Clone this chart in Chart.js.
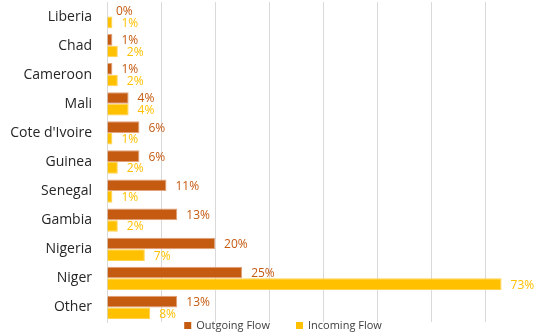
<!DOCTYPE html>
<html>
<head>
<meta charset="utf-8">
<script src="https://cdn.jsdelivr.net/npm/chart.js@4.4.0/dist/chart.umd.min.js"></script>
<style>
  html, body { margin: 0; padding: 0; background: #fff; }
  #wrap { width: 534px; height: 333px; }
</style>
</head>
<body>
<div id="wrap"><canvas id="flowChart"></canvas></div>
<script>
const countries = ['Liberia', 'Chad', 'Cameroon', 'Mali', "Cote d'Ivoire", 'Guinea', 'Senegal', 'Gambia', 'Nigeria', 'Niger', 'Other'];
const outgoing = [0, 1, 1, 4, 6, 6, 11, 13, 20, 25, 13];
const incoming = [1, 2, 2, 4, 1, 2, 1, 2, 7, 73, 8];
const seriesNames = ['Outgoing Flow', 'Incoming Flow'];
const seriesColors = ['#C55A11', '#FFC000'];
const seriesEdges = ['#E2A27A', '#FFD24D'];

// percent labels at the end of every bar
const valueLabels = {
    id: 'valueLabels',
    afterDatasetsDraw(chart) {
        const ctx = chart.ctx;
        ctx.save();
        ctx.font = '12px "Open Sans"';
        ctx.textAlign = 'left';
        ctx.textBaseline = 'middle';
        chart.data.datasets.forEach((ds, i) => {
            ctx.fillStyle = ds.backgroundColor;
            chart.getDatasetMeta(i).data.forEach((bar, j) => {
                ctx.fillText(ds.data[j] + '%', bar.x + 9, bar.y + 1);
            });
        });
        ctx.restore();
    }
};

// small square legend under the plot
const squareLegend = {
    id: 'squareLegend',
    afterDraw(chart) {
        const ctx = chart.ctx;
        ctx.save();
        ctx.font = '11px "Open Sans"';
        ctx.textBaseline = 'middle';
        const box = 7, gap = 5, spacing = 26;
        const items = chart.data.datasets.map(ds => ({
            text: ds.label, color: ds.backgroundColor,
            w: box + gap + ctx.measureText(ds.label).width
        }));
        const total = items.reduce((s, it) => s + it.w, 0) + spacing * (items.length - 1);
        let x = chart.width * 0.53 - total / 2;
        const y = chart.height - 7.5;
        items.forEach(it => {
            ctx.fillStyle = it.color;
            ctx.fillRect(x, y - box / 2, box, box);
            ctx.fillStyle = '#404040';
            ctx.fillText(it.text, x + box + gap, y + 0.5);
            x += it.w + spacing;
        });
        ctx.restore();
    }
};

const ctx = document.getElementById('flowChart').getContext('2d');
const flowChart = new Chart(ctx, {
    type: 'bar',
    data: {
        labels: countries,
        datasets: [{
            label: seriesNames[0],
            data: outgoing,
            backgroundColor: seriesColors[0],
            borderColor: seriesEdges[0],
            borderWidth: 1,
            barPercentage: 1,
            categoryPercentage: 0.8
        }, {
            label: seriesNames[1],
            data: incoming,
            backgroundColor: seriesColors[1],
            borderColor: seriesEdges[1],
            borderWidth: 1,
            barPercentage: 1,
            categoryPercentage: 0.8
        }]
    },
    options: {
        indexAxis: 'y',
        responsive: true,
        maintainAspectRatio: false,
        animation: false,
        devicePixelRatio: 1,
        layout: {
            padding: { top: 2, bottom: 11, left: 0, right: 0 }
        },
        scales: {
            x: {
                min: 0,
                max: 79,
                ticks: { display: false, stepSize: 10 },
                grid: { color: '#d9d9d9', lineWidth: 1, drawTicks: false },
                border: { display: false }
            },
            y: {
                afterFit(scale) {
                    scale.width = 107;
                    scale.paddingTop = 0;
                    scale.paddingBottom = 0;
                },
                ticks: {
                    color: '#262626',
                    padding: 15,
                    font: { family: '"Open Sans"', size: 14 }
                },
                grid: { display: false, drawTicks: false },
                border: { display: true, color: '#d9d9d9', width: 1 }
            }
        },
        plugins: {
            legend: { display: false },
            tooltip: { enabled: false }
        }
    },
    plugins: [valueLabels, squareLegend]
});
</script>
</body>
</html>
